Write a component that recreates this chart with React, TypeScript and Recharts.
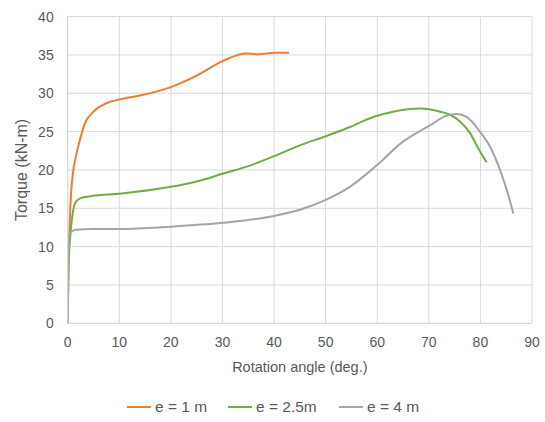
import { LineChart, Line, XAxis, YAxis, CartesianGrid } from "recharts";

const xTicks = [0, 10, 20, 30, 40, 50, 60, 70, 80, 90];
const yTicks = [0, 5, 10, 15, 20, 25, 30, 35, 40];

// e = 1 m
const e1Angle = [0, 0.1, 0.25, 0.5, 1.0, 1.6, 2.4, 3.35, 5, 7.5, 10, 14, 20, 24.7, 30, 33, 34.4, 36.9, 40.2, 42.9];
const e1Torque = [0, 6, 10, 15, 19.5, 21.8, 24, 26.1, 27.6, 28.7, 29.2, 29.7, 30.8, 32.2, 34.2, 35, 35.2, 35.1, 35.3, 35.3];

// e = 2.5 m
const e25Angle = [0, 0.2, 0.45, 0.9, 1.4, 2.4, 4.6, 10, 20, 25, 30, 35, 40, 45, 50, 54.7, 59.2, 63.1, 68.3, 72.2, 74.1, 76.1, 78.0, 79.6, 81.2];
const e25Torque = [0, 8, 11, 14, 15.6, 16.3, 16.6, 16.9, 17.8, 18.5, 19.5, 20.5, 21.8, 23.2, 24.4, 25.6, 26.9, 27.6, 28.0, 27.6, 27.2, 26.3, 24.8, 22.8, 21.0];

// e = 4 m
const e4Angle = [0, 0.1, 0.3, 0.9, 1.5, 5, 10, 20, 30, 40, 45, 50, 54.7, 59.9, 65, 67.6, 70.2, 73.5, 75.4, 77.4, 79.9, 81.9, 83.8, 85.1, 86.4];
const e4Torque = [0, 9.5, 11.6, 12, 12.2, 12.3, 12.3, 12.6, 13.1, 14.0, 14.8, 16.1, 17.8, 20.6, 23.7, 24.8, 25.8, 27.1, 27.3, 26.9, 25.0, 23.0, 20.0, 17.4, 14.3];

const toPoints = (xs: number[], ys: number[]) => xs.map((x, i) => ({ x, y: ys[i] }));

const series = [
  { name: "e = 1 m", color: "#ED7D31", data: toPoints(e1Angle, e1Torque), legendX: 127 },
  { name: "e = 2.5m", color: "#70AD47", data: toPoints(e25Angle, e25Torque), legendX: 228 },
  { name: "e = 4 m", color: "#A5A5A5", data: toPoints(e4Angle, e4Torque), legendX: 339 },
];

const font = "'Liberation Sans', Arial, sans-serif";
const tickStyle = { fill: "#595959", fontSize: 14, fontFamily: font };

export default function App() {
  return (
    <div style={{ position: "absolute", left: 0, top: 0, width: 545, height: 422, fontFamily: font }}>
      <LineChart width={545} height={422} margin={{ top: 16.6, right: 13, bottom: 0, left: 0 }}>
        <CartesianGrid stroke="#d9d9d9" strokeWidth={1} />
        <XAxis
          type="number"
          dataKey="x"
          domain={[0, 90]}
          ticks={xTicks}
          interval={0}
          allowDataOverflow
          height={98.7}
          stroke="#d9d9d9"
          tickLine={false}
          tickSize={0}
          tickMargin={14}
          tick={tickStyle}
          label={{ value: "Rotation angle (deg.)", position: "insideTop", offset: 38, fill: "#595959", fontSize: 14.5, fontFamily: font }}
        />
        <YAxis
          type="number"
          dataKey="y"
          domain={[0, 40]}
          ticks={yTicks}
          interval={0}
          width={67.7}
          stroke="#d9d9d9"
          tickLine={false}
          tickSize={0}
          tickMargin={14}
          tick={tickStyle}
          label={{ value: "Torque (kN-m)", angle: -90, position: "insideLeft", offset: 21, fill: "#595959", fontSize: 16, fontFamily: font, style: { textAnchor: "middle" } }}
        />
        {series.map((s) => (
          <Line
            key={s.name}
            data={s.data}
            dataKey="y"
            name={s.name}
            type="monotone"
            stroke={s.color}
            strokeWidth={2}
            dot={false}
            isAnimationActive={false}
          />
        ))}
      </LineChart>
      {series.map((s) => (
        <div
          key={s.name}
          style={{ position: "absolute", top: 398, left: s.legendX, display: "flex", alignItems: "center", gap: 4, fontSize: 15.5, color: "#595959", whiteSpace: "nowrap" }}
        >
          <div style={{ width: 24, height: 2, background: s.color }} />
          <span>{s.name}</span>
        </div>
      ))}
    </div>
  );
}
